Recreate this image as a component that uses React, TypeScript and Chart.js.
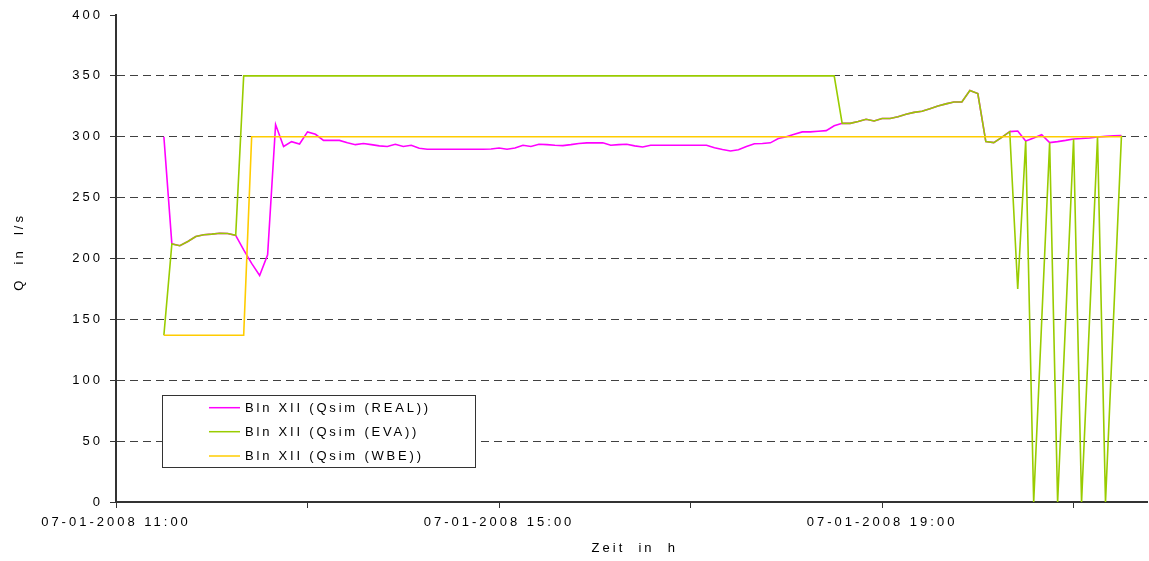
import React, { useEffect, useRef } from "react";
import { Chart, registerables } from "chart.js";

Chart.register(...registerables);

const FONT = "'Liberation Sans', Arial, sans-serif";

const times = [
  "11:30", "11:35", "11:40", "11:45", "11:50", "11:55",
  "12:00", "12:05", "12:10", "12:15", "12:20", "12:25", "12:30", "12:35", "12:40", "12:45", "12:50", "12:55",
  "13:00", "13:05", "13:10", "13:15", "13:20", "13:25", "13:30", "13:35", "13:40", "13:45", "13:50", "13:55",
  "14:00", "14:05", "14:10", "14:15", "14:20", "14:25", "14:30", "14:35", "14:40", "14:45", "14:50", "14:55",
  "15:00", "15:05", "15:10", "15:15", "15:20", "15:25", "15:30", "15:35", "15:40", "15:45", "15:50", "15:55",
  "16:00", "16:05", "16:10", "16:15", "16:20", "16:25", "16:30", "16:35", "16:40", "16:45", "16:50", "16:55",
  "17:00", "17:05", "17:10", "17:15", "17:20", "17:25", "17:30", "17:35", "17:40", "17:45", "17:50", "17:55",
  "18:00", "18:05", "18:10", "18:15", "18:20", "18:25", "18:30", "18:35", "18:40", "18:45", "18:50", "18:55",
  "19:00", "19:05", "19:10", "19:15", "19:20", "19:25", "19:30", "19:35", "19:40", "19:45", "19:50", "19:55",
  "20:00", "20:05", "20:10", "20:15", "20:20", "20:25", "20:30", "20:35", "20:40", "20:45", "20:50", "20:55",
  "21:00", "21:05", "21:10", "21:15", "21:20", "21:25", "21:30",
];

const realValues = [
  300, 212, 210.5, 214, 218, 219.5, 220, 220.7, 220.5, 219,
  207, 196, 186, 203, 310, 292, 296, 294, 304, 302,
  297, 297, 297, 295, 293.5, 294.5, 293.5, 292.5, 292, 293.8,
  292, 293, 290.5, 289.7, 289.7, 289.7, 289.7, 289.7, 289.7, 289.7,
  289.7, 290, 290.8, 289.7, 290.8, 293, 292, 293.8, 293.5, 293,
  292.7, 293.5, 294.5, 295, 295, 295, 293, 293.5, 293.8, 292.5,
  291.6, 293, 293, 293, 293, 293, 293, 293, 293, 291,
  289.5, 288.3, 289.3, 292, 294.3, 294.5, 295, 298.5, 300, 302,
  304, 304, 304.5, 305, 309, 311, 311, 312.5, 314.4, 313,
  315, 315, 316.5, 318.5, 320, 321, 323, 325.3, 327, 328.6,
  328.6, 338, 335.5, 296, 295.2, 299.5, 304.2, 304.7, 296.5, 299,
  301.7, 295.2, 296, 297, 298.2, 298.5, 299, 299.8, 300.3, 300.7,
  300.9,
];

const evaValues = [
  137, 212, 210.5, 214, 218, 219.5, 220, 220.7, 220.5, 219,
  350, 350, 350, 350, 350, 350, 350, 350, 350, 350,
  350, 350, 350, 350, 350, 350, 350, 350, 350, 350,
  350, 350, 350, 350, 350, 350, 350, 350, 350, 350,
  350, 350, 350, 350, 350, 350, 350, 350, 350, 350,
  350, 350, 350, 350, 350, 350, 350, 350, 350, 350,
  350, 350, 350, 350, 350, 350, 350, 350, 350, 350,
  350, 350, 350, 350, 350, 350, 350, 350, 350, 350,
  350, 350, 350, 350, 350, 311, 311, 312.5, 314.4, 313,
  315, 315, 316.5, 318.5, 320, 321, 323, 325.3, 327, 328.6,
  328.6, 338, 335.5, 296, 295.2, 299.5, 304.2, 175, 296.5, 0,
  148, 295.2, 0, 149, 298.2, 0, 150, 299.8, 0, 150,
  300.9,
];

const wbeValues = [
  137, 137, 137, 137, 137, 137, 137, 137, 137, 137,
  137, 300, 300, 300, 300, 300, 300, 300, 300, 300,
  300, 300, 300, 300, 300, 300, 300, 300, 300, 300,
  300, 300, 300, 300, 300, 300, 300, 300, 300, 300,
  300, 300, 300, 300, 300, 300, 300, 300, 300, 300,
  300, 300, 300, 300, 300, 300, 300, 300, 300, 300,
  300, 300, 300, 300, 300, 300, 300, 300, 300, 300,
  300, 300, 300, 300, 300, 300, 300, 300, 300, 300,
  300, 300, 300, 300, 300, 300, 300, 300, 300, 300,
  300, 300, 300, 300, 300, 300, 300, 300, 300, 300,
  300, 300, 300, 300, 300, 300, 300, 300, 300, 300,
  300, 300, 300, 300, 300, 300, 300, 300, 300, 300,
  300,
];

const seriesNames = ["Bln XII (Qsim (REAL))", "Bln XII (Qsim (EVA))", "Bln XII (Qsim (WBE))"];
const seriesColors = ["#FF00FF", "#99CC00", "#FFCC00"];

const xTickMinutes = [0, 120, 240, 360, 480, 600];
const xTickLabels: Record<number, string> = {
  0: "07-01-2008 11:00",
  240: "07-01-2008 15:00",
  480: "07-01-2008 19:00",
};
const yTickValues = [0, 50, 100, 150, 200, 250, 300, 350, 400];

const xTitle = " Zeit  in  h";
const yTitle = "  Q  in  l/s";

function toMinutes(t: string): number {
  const [h, m] = t.split(":").map(Number);
  return (h - 11) * 60 + m;
}

const spacingPlugin = {
  id: "letterSpacing",
  beforeDraw(chart: any) {
    chart.ctx.letterSpacing = "3px";
  },
};

const boxLegendPlugin = {
  id: "boxLegend",
  afterDatasetsDraw(chart: any) {
    const { ctx, chartArea } = chart;
    const x0 = chartArea.left + 46;
    const y0 = chartArea.bottom - 107;
    const w = 313;
    const h = 72;
    ctx.save();
    ctx.fillStyle = "#ffffff";
    ctx.fillRect(x0, y0, w, h);
    ctx.strokeStyle = "#333333";
    ctx.lineWidth = 1;
    ctx.strokeRect(x0 + 0.5, y0 + 0.5, w, h);
    const rows = [12.7, 36.7, 61];
    ctx.font = `13px ${FONT}`;
    ctx.letterSpacing = "2.8px";
    ctx.textBaseline = "middle";
    ctx.textAlign = "left";
    seriesNames.forEach((name, i) => {
      const y = y0 + rows[i];
      ctx.strokeStyle = seriesColors[i];
      ctx.lineWidth = 1.5;
      ctx.beginPath();
      ctx.moveTo(x0 + 47, y);
      ctx.lineTo(x0 + 78, y);
      ctx.stroke();
      ctx.fillStyle = "#000";
      ctx.fillText(name, x0 + 83, y + 0.5);
    });
    ctx.restore();
  },
};

export default function App() {
  const ref = useRef<HTMLCanvasElement>(null);

  useEffect(() => {
    const canvas = ref.current;
    if (!canvas) return;
    const xs = times.map(toMinutes);
    const mk = (vals: number[]) => xs.map((x, i) => ({ x, y: vals[i] }));
    const ds = (i: number, vals: number[], order: number) => ({
      label: seriesNames[i],
      data: mk(vals),
      borderColor: seriesColors[i],
      backgroundColor: seriesColors[i],
      borderWidth: 1.6,
      pointRadius: 0,
      tension: 0,
      fill: false,
      order,
    });

    const chart = new Chart(canvas, {
      type: "line",
      data: {
        datasets: [ds(0, realValues, 3), ds(1, evaValues, 2), ds(2, wbeValues, 1)],
      },
      options: {
        animation: false,
        responsive: true,
        maintainAspectRatio: false,
        events: [],
        layout: { padding: { top: 15, right: 2, left: 0, bottom: 0 } },
        plugins: {
          legend: { display: false },
          tooltip: { enabled: false },
        },
        scales: {
          x: {
            type: "linear",
            min: 0,
            max: 646,
            afterBuildTicks: (s: any) => {
              s.ticks = xTickMinutes.map((v) => ({ value: v }));
            },
            afterFit: (s: any) => {
              s.height = 59;
            },
            ticks: {
              autoSkip: false,
              maxRotation: 0,
              minRotation: 0,
              padding: 7,
              color: "#000",
              font: { size: 13, family: FONT },
              callback: (v: any) => xTickLabels[v as number] ?? "",
            },
            grid: {
              drawOnChartArea: false,
              drawTicks: true,
              tickLength: 6,
              tickColor: "#333",
              tickWidth: 1,
            },
            border: { display: true, color: "#333", width: 2 },
            title: {
              display: true,
              text: xTitle,
              color: "#000",
              font: { size: 13, family: FONT },
              padding: { top: 0, bottom: 5 },
            },
          },
          y: {
            type: "linear",
            min: 0,
            max: 400,
            afterBuildTicks: (s: any) => {
              s.ticks = yTickValues.map((v) => ({ value: v }));
            },
            afterFit: (s: any) => {
              s.width = 116;
            },
            ticks: {
              padding: 7,
              color: "#000",
              font: { size: 13, family: FONT },
              callback: (v: any) => String(v),
            },
            grid: {
              color: (c: any) =>
                c.tick && (c.tick.value === 0 || c.tick.value === 400) ? "rgba(0,0,0,0)" : "#404040",
              lineWidth: 1,
              drawTicks: true,
              tickLength: 6,
              tickColor: "#333",
              tickWidth: 1,
            },
            border: { display: true, color: "#333", width: 2, dash: [8, 5] },
            title: {
              display: true,
              text: yTitle,
              color: "#000",
              font: { size: 13, family: FONT },
              padding: { top: 12, bottom: 0 },
            },
          },
        },
      },
      plugins: [spacingPlugin, boxLegendPlugin],
    } as any);

    return () => chart.destroy();
  }, []);

  return (
    <div style={{ position: "absolute", left: 0, top: 0, width: 1149, height: 561, background: "#fff" }}>
      <canvas ref={ref} />
    </div>
  );
}
